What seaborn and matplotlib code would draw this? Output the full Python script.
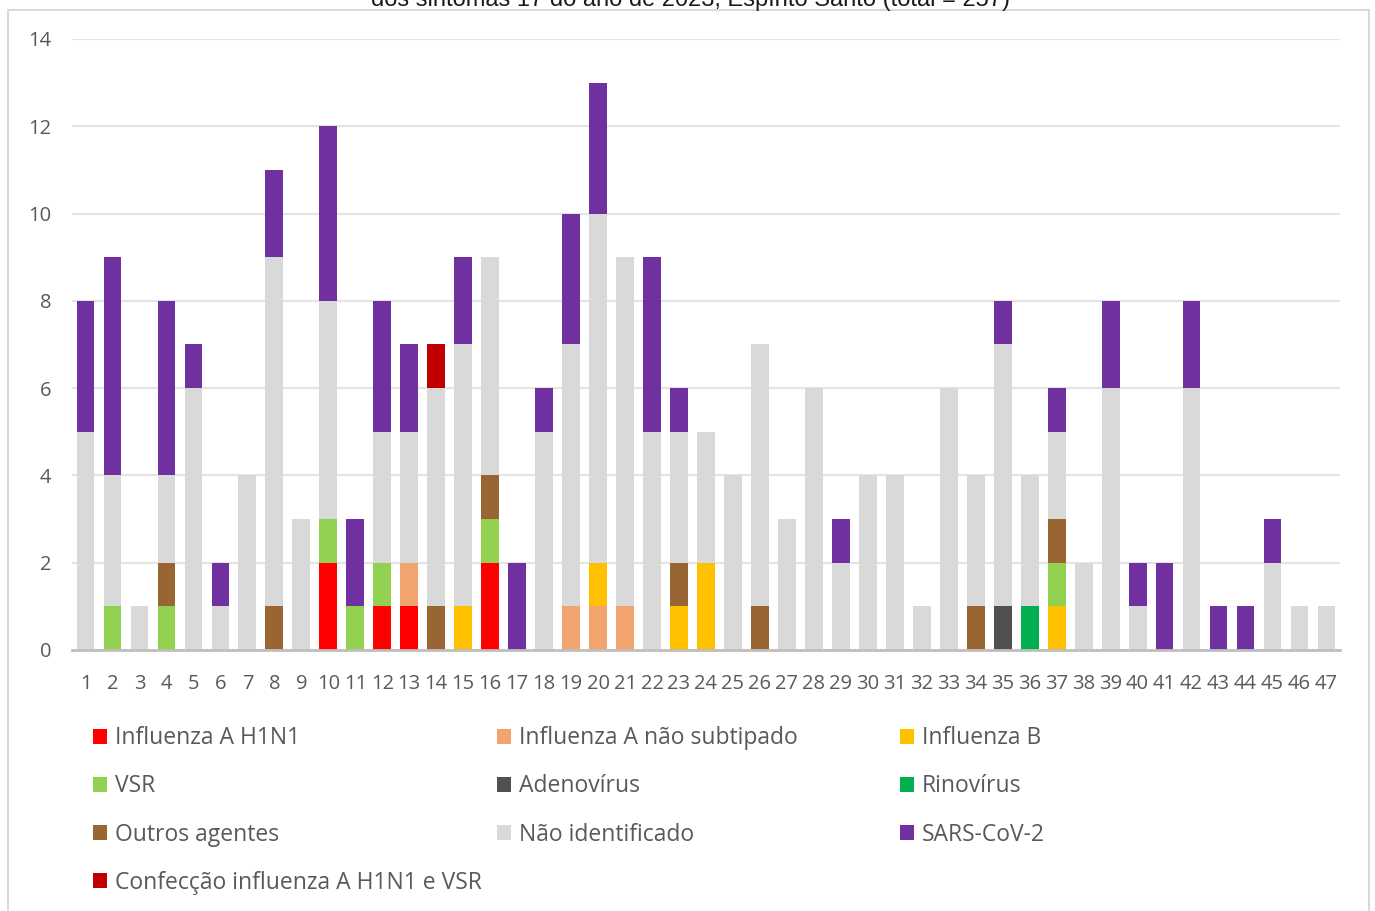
import pandas as pd
import seaborn as sns
import matplotlib.pyplot as plt
from matplotlib.patches import Patch, Rectangle

# Semanas epidemiologicas 1..47
weeks = [str(w) for w in range(1, 48)]

# Casos por agente e semana
h1n1 = [0, 0, 0, 0, 0, 0, 0, 0, 0, 2,
        0, 1, 1, 0, 0, 2, 0, 0, 0, 0,
        0, 0, 0, 0, 0, 0, 0, 0, 0, 0,
        0, 0, 0, 0, 0, 0, 0, 0, 0, 0,
        0, 0, 0, 0, 0, 0, 0]
flu_a_nst = [0, 0, 0, 0, 0, 0, 0, 0, 0, 0,
             0, 0, 1, 0, 0, 0, 0, 0, 1, 1,
             1, 0, 0, 0, 0, 0, 0, 0, 0, 0,
             0, 0, 0, 0, 0, 0, 0, 0, 0, 0,
             0, 0, 0, 0, 0, 0, 0]
flu_b = [0, 0, 0, 0, 0, 0, 0, 0, 0, 0,
         0, 0, 0, 0, 1, 0, 0, 0, 0, 1,
         0, 0, 1, 2, 0, 0, 0, 0, 0, 0,
         0, 0, 0, 0, 0, 0, 1, 0, 0, 0,
         0, 0, 0, 0, 0, 0, 0]
vsr = [0, 1, 0, 1, 0, 0, 0, 0, 0, 1,
       1, 1, 0, 0, 0, 1, 0, 0, 0, 0,
       0, 0, 0, 0, 0, 0, 0, 0, 0, 0,
       0, 0, 0, 0, 0, 0, 1, 0, 0, 0,
       0, 0, 0, 0, 0, 0, 0]
adeno = [0, 0, 0, 0, 0, 0, 0, 0, 0, 0,
         0, 0, 0, 0, 0, 0, 0, 0, 0, 0,
         0, 0, 0, 0, 0, 0, 0, 0, 0, 0,
         0, 0, 0, 0, 1, 0, 0, 0, 0, 0,
         0, 0, 0, 0, 0, 0, 0]
rino = [0, 0, 0, 0, 0, 0, 0, 0, 0, 0,
        0, 0, 0, 0, 0, 0, 0, 0, 0, 0,
        0, 0, 0, 0, 0, 0, 0, 0, 0, 0,
        0, 0, 0, 0, 0, 1, 0, 0, 0, 0,
        0, 0, 0, 0, 0, 0, 0]
outros = [0, 0, 0, 1, 0, 0, 0, 1, 0, 0,
          0, 0, 0, 1, 0, 1, 0, 0, 0, 0,
          0, 0, 1, 0, 0, 1, 0, 0, 0, 0,
          0, 0, 0, 1, 0, 0, 1, 0, 0, 0,
          0, 0, 0, 0, 0, 0, 0]
nao_ident = [5, 3, 1, 2, 6, 1, 4, 8, 3, 5,
             0, 3, 3, 5, 6, 5, 0, 5, 6, 8,
             8, 5, 3, 3, 4, 6, 3, 6, 2, 4,
             4, 1, 6, 3, 6, 3, 2, 2, 6, 1,
             0, 6, 0, 0, 2, 1, 1]
sars = [3, 5, 0, 4, 1, 1, 0, 2, 0, 4,
        2, 3, 2, 0, 2, 0, 2, 1, 3, 3,
        0, 4, 1, 0, 0, 0, 0, 0, 1, 0,
        0, 0, 0, 0, 1, 0, 1, 0, 2, 1,
        2, 2, 1, 1, 1, 0, 0]
coinf = [0, 0, 0, 0, 0, 0, 0, 0, 0, 0,
         0, 0, 0, 1, 0, 0, 0, 0, 0, 0,
         0, 0, 0, 0, 0, 0, 0, 0, 0, 0,
         0, 0, 0, 0, 0, 0, 0, 0, 0, 0,
         0, 0, 0, 0, 0, 0, 0]

# ordem de empilhamento (base -> topo)
labels = ["Influenza A H1N1", "Influenza A não subtipado", "Influenza B", "VSR",
          "Adenovírus", "Rinovírus", "Outros agentes", "Não identificado",
          "SARS-CoV-2", "Confecção influenza A H1N1 e VSR"]
series = [h1n1, flu_a_nst, flu_b, vsr, adeno, rino, outros, nao_ident, sars, coinf]
colors = ["#FF0000", "#F2A46F", "#FFC000", "#92D050", "#505050",
          "#00B050", "#996633", "#D9D9D9", "#7030A0", "#C00000"]

TEXT = "#595959"


def main():
    df = pd.DataFrame(dict(zip(labels, series)), index=weeks)
    cum = df.cumsum(axis=1)

    fig = plt.figure(figsize=(13.75, 9.11), dpi=100)
    ax = fig.add_axes([0.0524, 0.2865, 0.9221, 0.6707])

    # empilhado: barras cumulativas do topo para a base
    for lab, col in reversed(list(zip(labels, colors))):
        sns.barplot(x=weeks, y=cum[lab].values, order=weeks, color=col,
                    saturation=1, width=0.66, errorbar=None, ax=ax,
                    linewidth=0)

    ax.set_xlim(-0.5, 46.5)
    ax.set_ylim(0, 14)
    ax.set_yticks(range(0, 15, 2))
    ax.set_axisbelow(True)
    ax.yaxis.grid(True, color="#E4E4E4", linewidth=1.5)
    for s in ["top", "right", "left"]:
        ax.spines[s].set_visible(False)
    ax.spines["bottom"].set_color("#BFBFBF")
    ax.spines["bottom"].set_linewidth(2)
    ax.tick_params(axis="both", length=0, colors=TEXT, labelsize=14.5)
    ax.tick_params(axis="y", pad=15)
    ax.tick_params(axis="x", pad=17)
    ax.set_xlabel("")
    ax.set_ylabel("")

    # legenda em 3 colunas (preenchida por linhas)
    cols = [[0, 3, 6, 9], [1, 4, 7], [2, 5, 8]]
    xs = [0.0676, 0.3615, 0.6545]
    for idx, x0 in zip(cols, xs):
        handles = [Patch(facecolor=colors[i], edgecolor="none", label=labels[i]) for i in idx]
        leg = fig.legend(handles=handles, loc="upper left", bbox_to_anchor=(x0, 0.2026),
                         frameon=False, fontsize=16.5, handlelength=0.62, handleheight=0.62,
                         handletextpad=0.35, labelspacing=1.05, borderpad=0,
                         borderaxespad=0)
        for t in leg.get_texts():
            t.set_color(TEXT)

    # titulo (cortado no topo da imagem original)
    fig.text(0.502, 1 - 6 / 911, "dos sintomas 17 do ano de 2023, Espírito Santo (total = 257)",
             ha="center", va="baseline", fontsize=17, family="Liberation Sans", color="#1A1A1A")

    # moldura da area do grafico
    fig.patches.append(Rectangle((8 / 1375, -0.02), 1361 / 1375, 1.02 - 10 / 911,
                                 transform=fig.transFigure, fill=False,
                                 edgecolor="#D9D9D9", linewidth=1.5))

    fig.savefig("out.png", dpi=100)
    plt.close(fig)


if __name__ == "__main__":
    plt.rcParams["font.family"] = ["Open Sans", "DejaVu Sans"]
    main()
